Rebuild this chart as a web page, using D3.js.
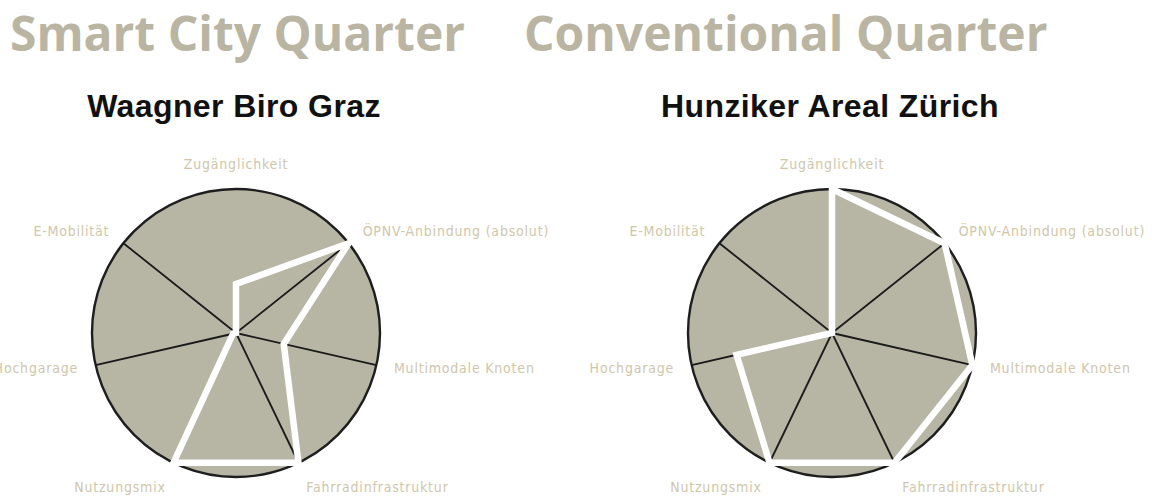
<html>
    <script src="https://d3js.org/d3.v7.min.js"></script>
    <head>
        <style>
        body {margin: 0; background: #fff;}
        .header {
            font-family: "Open Sans", sans-serif;
            font-weight: 700;
            font-size: 48px;
            fill: #b9b5a2;
        }
        .title {
            font-family: "Liberation Sans", Arial, sans-serif;
            font-weight: bold;
            font-size: 32px;
            letter-spacing: 0.4px;
            fill: #111;
        }
        .label {
            font-family: "Liberation Sans Narrow", "DejaVu Sans Condensed", sans-serif;
            font-size: 14px;
            letter-spacing: 0.8px;
            fill: #d0c6ab;
        }
        .disc {
            fill: #b7b5a4;
            stroke: #1e1e1e;
            stroke-width: 2.4px;
        }
        .spoke {
            stroke: #1a1a1a;
            stroke-width: 1.8px;
        }
        .shape {
            fill: none;
            stroke: #fff;
            stroke-width: 6.5px;
            stroke-linejoin: miter;
        }
        </style>
    </head>
    <body>
        <div id="chart"></div>
        <script>
            // axes, clockwise from the top
            var axes = ["Zugänglichkeit", "ÖPNV-Anbindung (absolut)", "Multimodale Knoten",
                        "Fahrradinfrastruktur", "Nutzungsmix", "Hochgarage", "E-Mobilität"];
            var grazValues = [0.34, 1, 0.34, 1, 1, 0.02, 0];
            var zurichValues = [1, 1, 1, 1, 1, 0.68, 0];
            var titles = ["Waagner Biro Graz", "Hunziker Areal Zürich"];
            var headers = ["Smart City Quarter", "Conventional Quarter"];

            var width = 1152;
            var height = 502;
            var radius = 144;

            var r = d3.scaleLinear().domain([0, 1]).range([0, radius]);
            var angle = d3.scaleLinear().domain([0, axes.length]).range([0, 2 * Math.PI]);

            var svg = d3.select("#chart")
                .append("svg")
                .attr("width", width)
                .attr("height", height);

            svg.selectAll(".header")
                .data(headers)
                .enter()
                .append("text")
                .attr("class", "header")
                .attr("x", (d, i) => i == 0 ? 10 : 524)
                .attr("y", 51)
                .text(d => d);

            var charts = [
                {title: titles[0], values: grazValues, cx: 236},
                {title: titles[1], values: zurichValues, cx: 832}
            ];
            var cy = 333;

            charts.forEach(function(c) {
                var g = svg.append("g")
                    .attr("transform", "translate(" + c.cx + "," + cy + ")");

                g.append("text") // chart title
                    .attr("class", "title")
                    .attr("text-anchor", "middle")
                    .attr("x", -2)
                    .attr("y", 117 - cy)
                    .text(c.title);

                g.append("circle")
                    .attr("class", "disc")
                    .attr("r", r(1));

                // spokes (the top one is not drawn in the original)
                g.selectAll(".spoke")
                    .data(axes.slice(1))
                    .enter()
                    .append("line")
                    .attr("class", "spoke")
                    .attr("x1", 0)
                    .attr("y1", 0)
                    .attr("x2", (d, i) => r(1) * Math.sin(angle(i + 1)))
                    .attr("y2", (d, i) => -r(1) * Math.cos(angle(i + 1)));

                var line = d3.lineRadial()
                    .angle((d, i) => angle(i))
                    .radius(d => r(d))
                    .curve(d3.curveLinearClosed);

                g.append("path")
                    .attr("class", "shape")
                    .attr("d", line(c.values));

                g.selectAll(".label")
                    .data(axes)
                    .enter()
                    .append("text")
                    .attr("class", "label")
                    .attr("dominant-baseline", "middle")
                    .attr("text-anchor", (d, i) => {
                        var s = Math.sin(angle(i));
                        return s > 0.1 ? "start" : (s < -0.1 ? "end" : "middle");
                    })
                    .attr("x", (d, i) => (r(1) + 18) * Math.sin(angle(i)))
                    .attr("y", (d, i) => {
                        var co = Math.cos(angle(i));
                        var extra = co > 0.9 ? -6 : (co < -0.5 ? 9 : 0);
                        return -(r(1) + 18) * co + extra;
                    })
                    .text(d => d);
            });
        </script>
    </body>
</html>
